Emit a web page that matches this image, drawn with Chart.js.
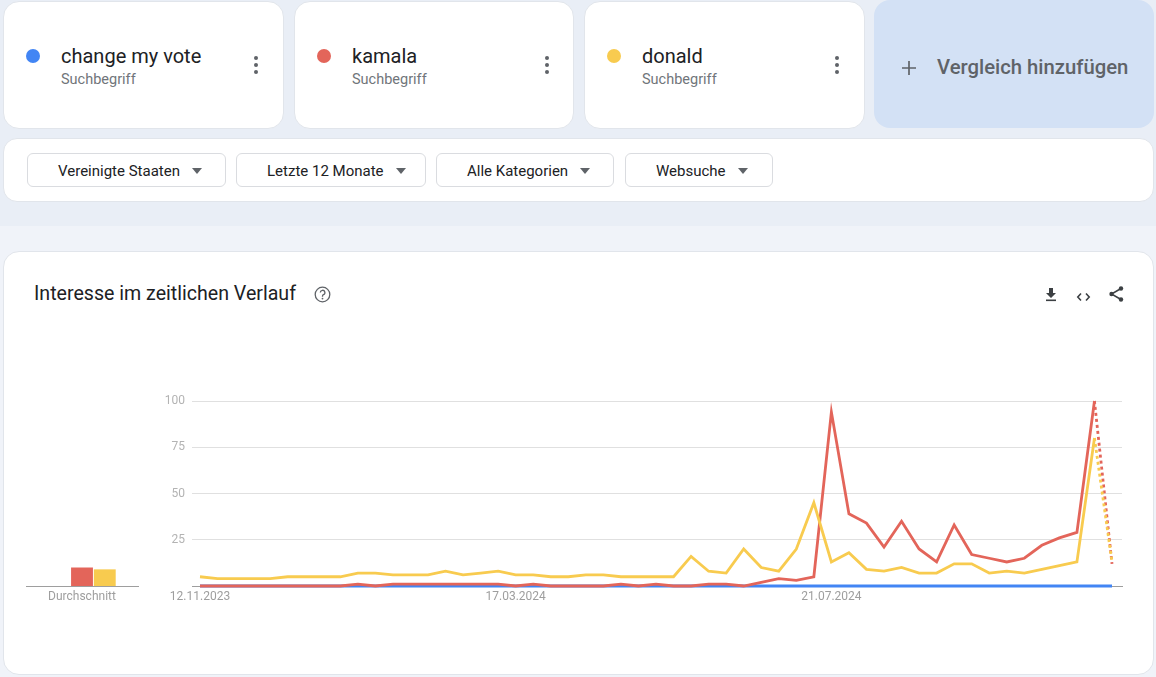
<!DOCTYPE html>
<html>
<head>
<meta charset="utf-8">
<script src="https://cdn.jsdelivr.net/npm/chart.js@4.4.1/dist/chart.umd.min.js"></script>
<style>
html,body{margin:0;padding:0;}
body{width:1156px;height:677px;position:relative;overflow:hidden;background:#e9eef6;font-family:Roboto,"Noto Sans",Arial,sans-serif;}
.abs{position:absolute;}
.lower{left:0;top:226px;width:1156px;height:451px;background:#f0f3f9;}
.card{background:#fff;border:1px solid #e1e5eb;box-sizing:border-box;border-radius:16px;}
.dot{width:14px;height:14px;border-radius:50%;}
.term{font-size:20px;line-height:24px;color:#202124;white-space:nowrap;}
.sub{font-size:14.5px;line-height:18px;color:#70757a;white-space:nowrap;}
.keb{width:4px;height:4px;border-radius:50%;background:#5f6368;}
.btn{top:153px;height:34px;border:1px solid #dadce0;border-radius:6px;box-sizing:border-box;background:#fff;}
.btn span{position:absolute;left:30px;top:0;line-height:34px;font-size:15px;color:#202124;white-space:nowrap;}
.caret{width:0;height:0;border-left:5px solid transparent;border-right:5px solid transparent;border-top:6px solid #5f6368;top:14px;}
.title{left:34px;top:282px;font-size:19.6px;line-height:24px;color:#202124;white-space:nowrap;}
</style>
</head>
<body>
<div class="abs lower"></div>

<!-- term cards -->
<div class="abs card" style="left:3px;top:1px;width:281px;height:128px;"></div>
<div class="abs card" style="left:294px;top:1px;width:280px;height:128px;"></div>
<div class="abs card" style="left:584px;top:1px;width:281px;height:128px;"></div>
<div class="abs" style="left:874px;top:0px;width:280px;height:128px;background:#d3e1f5;border-radius:16px;"></div>

<div id="terms"></div>

<div class="abs" style="left:902px;top:60px;width:14px;height:14px;">
  <svg width="14" height="14" viewBox="0 0 14 14"><path d="M7 0V14M0 7H14" stroke="#5f6368" stroke-width="1.7"/></svg>
</div>
<div class="abs" style="left:937px;top:55px;font-size:20.3px;line-height:24px;font-weight:500;color:#5f6368;white-space:nowrap;">Vergleich hinzufügen</div>

<!-- filter bar -->
<div class="abs card" style="left:3px;top:138px;width:1151px;height:64px;border-radius:14px;"></div>
<div id="filters"></div>

<!-- main card -->
<div class="abs card" style="left:3px;top:251px;width:1151px;height:424px;"></div>
<div class="abs title">Interesse im zeitlichen Verlauf</div>
<div class="abs" style="left:314px;top:286px;width:17px;height:17px;">
  <svg width="17" height="17" viewBox="0 0 17 17"><circle cx="8.5" cy="8.5" r="7.3" fill="none" stroke="#5f6368" stroke-width="1.3"/>
  <path d="M6.3 6.6a2.3 2.3 0 1 1 3.2 2.1c-.7.3-1 .8-1 1.5v.5" fill="none" stroke="#5f6368" stroke-width="1.3"/><circle cx="8.5" cy="12.6" r=".9" fill="#5f6368"/></svg>
</div>
<div class="abs" style="left:1045px;top:287px;width:12px;height:15px;">
  <svg width="12" height="15" viewBox="0 0 12 15"><path d="M4 1h4v5h3l-5 5-5-5h3z" fill="#3c4043"/><rect x="1" y="12.5" width="10" height="1.6" fill="#3c4043"/></svg>
</div>
<div class="abs" style="left:1076px;top:288px;width:15px;height:12px;">
  <svg width="15" height="12" viewBox="0 0 15 12"><path d="M5 2.5L1.8 6 5 9.5M10 2.5L13.2 6 10 9.5" fill="none" stroke="#3c4043" stroke-width="1.6"/></svg>
</div>
<div class="abs" style="left:1108px;top:286px;width:16px;height:16px;">
  <svg width="16" height="16" viewBox="0 0 16 16"><path d="M13 2.5L3.5 8 13 13.5" fill="none" stroke="#3c4043" stroke-width="1.5"/><circle cx="13" cy="2.5" r="2.2" fill="#3c4043"/><circle cx="3.5" cy="8" r="2.2" fill="#3c4043"/><circle cx="13" cy="13.5" r="2.2" fill="#3c4043"/></svg>
</div>

<canvas id="avg" class="abs" width="130" height="230" style="left:20px;top:380px;"></canvas>
<canvas id="trend" class="abs" width="1000" height="230" style="left:140px;top:380px;"></canvas>

<script>
// ---------- data ----------
const seriesNames = ['change my vote', 'kamala', 'donald'];
const seriesColors = ['#4285f4', '#e3655a', '#f8cb4f'];
const termKind = 'Suchbegriff';
const filterLabels = ['Vereinigte Staaten', 'Letzte 12 Monate', 'Alle Kategorien', 'Websuche'];

const xTickPositions = [0, 18, 36];
const xTickLabels = ['12.11.2023', '17.03.2024', '21.07.2024'];
const yTickValues = [0, 25, 50, 75, 100];

const changeMyVote = [0,0,0,0,0,0,0,0,0,0, 0,0,0,0,0,0,0,0,0,0, 0,0,0,0,0,0,0,0,0,0, 0,0,0,0,0,0,0,0,0,0, 0,0,0,0,0,0,0,0,0,0, 0,0,0];
const kamala = [0,0,0,0,0,0,0,0,0,1, 0,1,1,1,1,1,1,1,0,1, 0,0,0,0,1,0,1,0,0,1, 1,0,2,4,3,5,94,39,34,21, 35,20,13,33,17,15,13,15,22,26, 29,100,12];
const donald = [5,4,4,4,4,5,5,5,5,7, 7,6,6,6,8,6,7,8,6,6, 5,5,6,6,5,5,5,5,16,8, 7,20,10,8,20,45,13,18,9,8, 10,7,7,12,12,7,8,7,9,11, 13,80,13];
const averages = [0, 10, 9];
const partialIndex = 52; // last week is incomplete (dotted)

// ---------- page chrome ----------
const cardLefts = [3, 294, 584];
const termsEl = document.getElementById('terms');
seriesNames.forEach((n, i) => {
  const L = cardLefts[i];
  termsEl.insertAdjacentHTML('beforeend',
    `<div class="abs dot" style="left:${L+23}px;top:49px;background:${seriesColors[i]}"></div>
     <div class="abs term" style="left:${L+58}px;top:44px">${n}</div>
     <div class="abs sub" style="left:${L+58}px;top:71px">${termKind}</div>
     <div class="abs keb" style="left:${L+251}px;top:56px"></div>
     <div class="abs keb" style="left:${L+251}px;top:63px"></div>
     <div class="abs keb" style="left:${L+251}px;top:70px"></div>`);
});
const btnBoxes = [[27,199],[236,190],[436,178],[625,148]];
const filtersEl = document.getElementById('filters');
filterLabels.forEach((t, i) => {
  const [l, w] = btnBoxes[i];
  filtersEl.insertAdjacentHTML('beforeend',
    `<div class="abs btn" style="left:${l}px;width:${w}px"><span>${t}</span><div class="abs caret"></div></div>`);
});
document.querySelectorAll('.btn').forEach(b => {
  const s = b.querySelector('span');
  const c = b.querySelector('.caret');
  c.style.left = (30 + s.offsetWidth + 12) + 'px';
});

// ---------- charts ----------
Chart.defaults.font.family = 'Roboto, "Noto Sans", Arial, sans-serif';
Chart.defaults.animation = false;

const lineSeries = [changeMyVote, kamala, donald];
new Chart(document.getElementById('trend'), {
  type: 'line',
  data: {
    datasets: lineSeries.map((arr, i) => ({
      label: seriesNames[i],
      data: arr.map((v, k) => ({x: k, y: v})),
      borderColor: seriesColors[i],
      backgroundColor: seriesColors[i],
      borderWidth: 2.8,
      pointRadius: 0,
      tension: 0,
      fill: false,
      clip: false,
      order: 3 - i,
      segment: { borderDash: ctx => (i > 0 && ctx.p1DataIndex === partialIndex) ? [3, 3] : undefined }
    }))
  },
  options: {
    responsive: false,
    devicePixelRatio: 1,
    layout: { padding: { top: 21, right: 18, left: 0, bottom: 0 } },
    plugins: { legend: { display: false }, tooltip: { enabled: false } },
    scales: {
      x: {
        type: 'linear', min: -0.456, max: 52.57,
        afterBuildTicks: s => { s.ticks = xTickPositions.map(v => ({ value: v })); },
        afterFit: s => { s.height = 24; },
        grid: { display: false, drawTicks: false },
        border: { display: true, color: '#9e9e9e', width: 1 },
        ticks: {
          autoSkip: false, maxRotation: 0, padding: 4, color: '#9e9e9e', font: { size: 12 },
          callback: v => { const k = xTickPositions.indexOf(v); return k >= 0 ? xTickLabels[k] : ''; }
        }
      },
      y: {
        min: 0, max: 100,
        afterBuildTicks: s => { s.ticks = yTickValues.map(v => ({ value: v })); },
        afterFit: s => { s.width = 52; },
        grid: { drawTicks: false, color: c => c.tick && c.tick.value === 0 ? '#9e9e9e' : '#e0e0e0', lineWidth: 1 },
        border: { display: false },
        ticks: { padding: 7, color: '#b3b3b3', font: { size: 12 }, callback: v => v === 0 ? '' : String(v) }
      }
    }
  }
});

new Chart(document.getElementById('avg'), {
  type: 'bar',
  data: {
    labels: ['Durchschnitt'],
    datasets: seriesNames.map((n, i) => ({
      label: n, data: [averages[i]], backgroundColor: seriesColors[i],
      categoryPercentage: 0.61, barPercentage: 0.96
    }))
  },
  options: {
    responsive: false,
    devicePixelRatio: 1,
    layout: { padding: { top: 21, right: 12, left: 6, bottom: 0 } },
    plugins: { legend: { display: false }, tooltip: { enabled: false } },
    scales: {
      x: {
        grid: { display: false, drawTicks: false },
        border: { display: true, color: '#9e9e9e', width: 1 },
        afterFit: s => { s.height = 24; },
        ticks: { padding: 4, color: '#9e9e9e', font: { size: 12 } }
      },
      y: { display: false, min: 0, max: 100 }
    }
  }
});
</script>
</body>
</html>
